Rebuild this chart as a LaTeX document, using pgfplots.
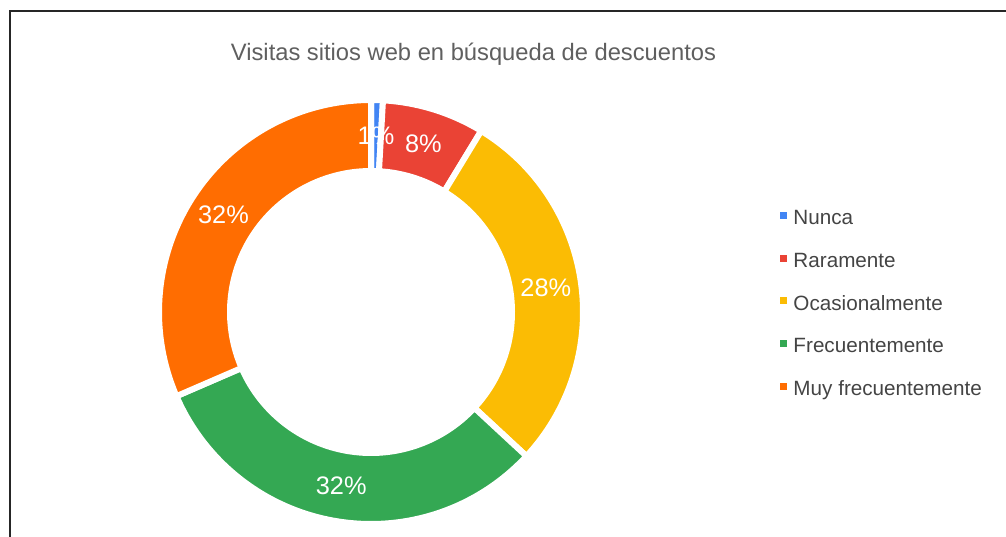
\documentclass[border=0pt]{standalone}
\usepackage{pgfplots}
\usepackage{pgfplotstable}
\pgfplotsset{compat=1.18}
\usepackage{fontspec}
\setmainfont{Liberation Sans}
\definecolor{cN}{HTML}{4285F4}
\definecolor{cR}{HTML}{EA4335}
\definecolor{cO}{HTML}{FBBC04}
\definecolor{cF}{HTML}{34A853}
\definecolor{cM}{HTML}{FF6D01}
\definecolor{titlegray}{HTML}{5F5F5F}
\definecolor{leggray}{HTML}{444444}
\pgfplotstableread{
value col
0.9 cN
7.8 cR
28.2 cO
31.6 cF
31.5 cM
}\donut
\newcommand\labfont{\fontsize{19pt}{22pt}\selectfont}
\begin{document}
\begin{tikzpicture}
\begin{axis}[
  width=754.5pt, height=402pt, scale only axis,
  xmin=0, xmax=1006, ymin=0, ymax=536,
  hide axis, clip=false,
  legend style={at={(0.7753,0.6151)}, anchor=north west, draw=none, fill=none,
    inner sep=0pt, outer sep=0pt, row sep=17.9pt, column sep=5.25pt,
    font=\fontsize{15.5pt}{18pt}\selectfont\color{leggray},
    nodes={inner sep=0pt, text height=14pt, text depth=0pt}},
  legend cell align=left,
]
\def\cum{0}
\pgfplotsforeachungrouped \k in {0,...,4}{%
  \pgfplotstablegetelem{\k}{value}\of\donut \let\val\pgfplotsretval
  \pgfplotstablegetelem{\k}{col}\of\donut \let\colname\pgfplotsretval
  \pgfmathsetmacro\aS{90-3.6*\cum}
  \pgfmathsetmacro\cumN{\cum+\val}
  \pgfmathsetmacro\aE{90-3.6*\cumN}
  \pgfmathsetmacro\xo{371+212*cos(\aS)}
  \pgfmathsetmacro\yo{224+212*sin(\aS)}
  \pgfmathsetmacro\xi{371+141*cos(\aE)}
  \pgfmathsetmacro\yi{224+141*sin(\aE)}
  \edef\doit{\noexpand\fill[\colname, draw=white, line width=4.5pt, line join=round]
    (axis cs:\xo,\yo) arc[start angle=\aS, end angle=\aE, radius=159pt]
    -- (axis cs:\xi,\yi) arc[start angle=\aE, end angle=\aS, radius=105.75pt] -- cycle;}%
  \doit
  \let\cum\cumN
}
\def\cum{0}
\pgfplotsforeachungrouped \k in {0,...,4}{%
  \pgfplotstablegetelem{\k}{value}\of\donut \let\val\pgfplotsretval
  \pgfmathsetmacro\aS{90-3.6*\cum}
  \pgfmathsetmacro\cumN{\cum+\val}
  \pgfmathsetmacro\aE{90-3.6*\cumN}
  \pgfmathsetmacro\aM{(\aS+\aE)/2}
  \pgfmathsetmacro\xl{371+176.5*cos(\aM)}
  \pgfmathsetmacro\yl{224+176.5*sin(\aM)}
  \pgfmathtruncatemacro\pct{round(\val)}
  \edef\doit{\noexpand\node[text=white, inner sep=0pt, font=\noexpand\labfont] at (axis cs:\xl,\yl) {\pct\noexpand\%};}%
  \doit
  \let\cum\cumN
}
\addlegendimage{legend image code/.code={\fill[cN] (0pt,-2.25pt) rectangle (4.5pt,2.25pt);}}
\addlegendentry{Nunca}
\addlegendimage{legend image code/.code={\fill[cR] (0pt,-2.25pt) rectangle (4.5pt,2.25pt);}}
\addlegendentry{Raramente}
\addlegendimage{legend image code/.code={\fill[cO] (0pt,-2.25pt) rectangle (4.5pt,2.25pt);}}
\addlegendentry{Ocasionalmente}
\addlegendimage{legend image code/.code={\fill[cF] (0pt,-2.25pt) rectangle (4.5pt,2.25pt);}}
\addlegendentry{Frecuentemente}
\addlegendimage{legend image code/.code={\fill[cM] (0pt,-2.25pt) rectangle (4.5pt,2.25pt);}}
\addlegendentry{Muy frecuentemente}
\node[anchor=base, text=titlegray, font=\fontsize{17.8pt}{20pt}\selectfont, inner sep=0pt] at (axis cs:473.5,475) {Visitas sitios web en búsqueda de descuentos};
\draw[line width=1.1pt, color=black!85] (axis cs:10,-10) -- (axis cs:10,525) -- (axis cs:1020,525);
\end{axis}
\pgfresetboundingbox
\useasboundingbox (current axis.south west) rectangle (current axis.north east);
\end{tikzpicture}
\end{document}
